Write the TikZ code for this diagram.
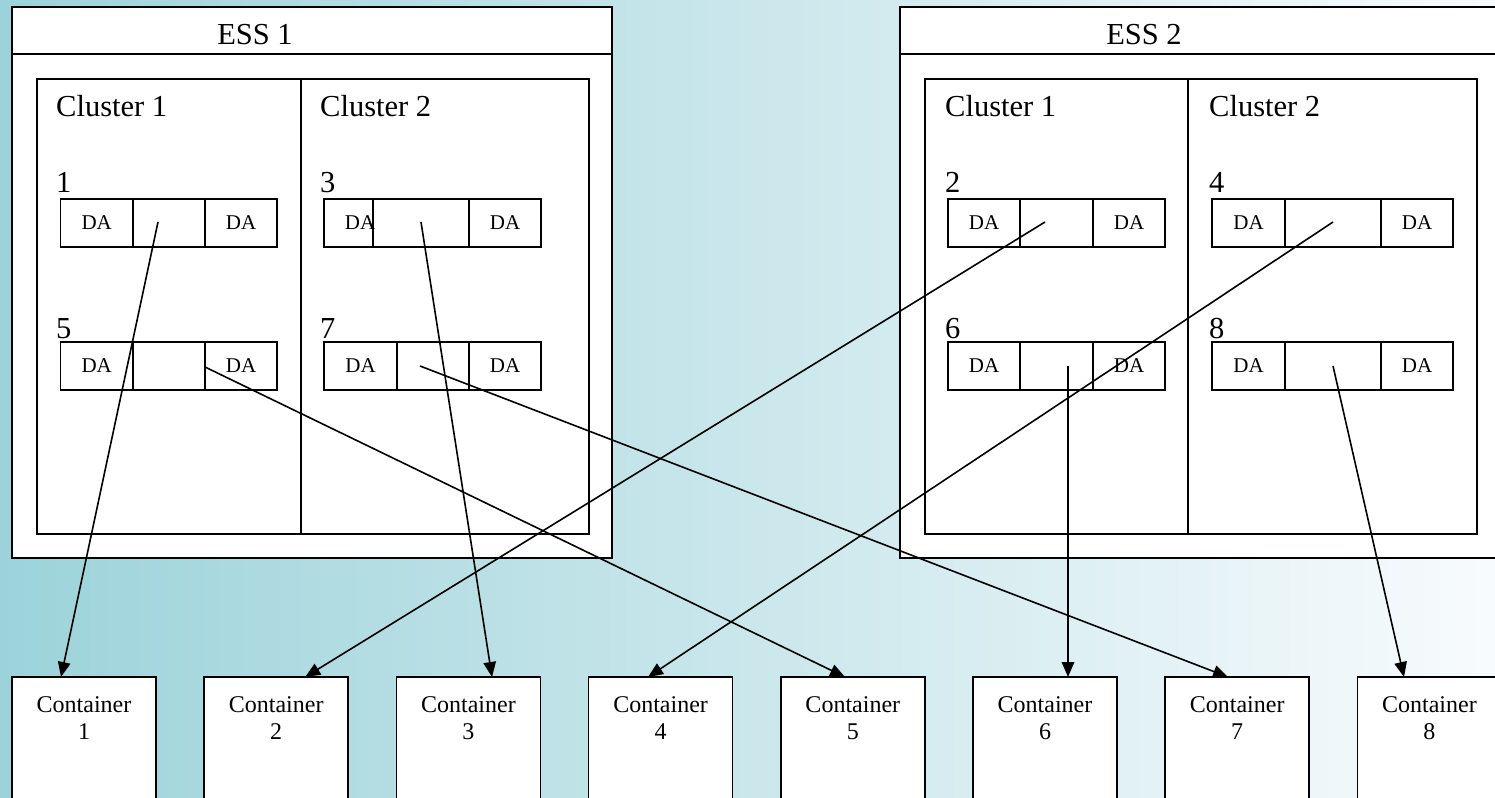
\documentclass[tikz,border=0pt]{standalone}
\usepackage{fontspec}
\setmainfont{Liberation Serif}
\usetikzlibrary{arrows.meta,calc}
\definecolor{bgL}{RGB}{156,211,218}
\definecolor{bgM}{RGB}{198,231,232}
\definecolor{bgR}{RGB}{248,251,253}
\begin{document}
\begin{tikzpicture}[x=1pt,y=-1pt,
  box/.style={draw=black,fill=white,line width=1.7pt,inner sep=0pt,outer sep=0pt,anchor=north west},
  cell/.style={box,minimum height=48pt,font=\fontsize{21}{24}\selectfont},
  big/.style={font=\fontsize{30.5}{36}\selectfont,inner sep=0pt,anchor=base west},
  ctext/.style={font=\fontsize{24}{28}\selectfont,inner sep=0pt,anchor=base},
  conn/.style={line width=1.6pt,-{Triangle[length=15pt,width=12.5pt]}}
]
\useasboundingbox (0,0) rectangle (1495,797);
\clip (0,0) rectangle (1495,797);
\shade[left color=bgL,middle color=bgM,right color=bgR] (0,0) rectangle (1495,797);

% ESS 1
\node[box,minimum width=600pt,minimum height=551pt] (ess1) at (12,7) {};
\draw[line width=1.7pt] ([yshift=-47pt]ess1.north west) -- ([yshift=-47pt]ess1.north east);
\node[big,anchor=base] (ess1t) at (255,45) {ESS 1};
\node[box,minimum width=264pt,minimum height=455pt] (c11) at (37,79) {};
\node[box,minimum width=288pt,minimum height=455pt] (c12) at (301,79) {};
\node[big] (c11t) at (56,117) {Cluster 1};
\node[big] (c12t) at (320,117) {Cluster 2};
\node[big] (n1) at (56,192) {1};
\node[big] (n3) at (320,192) {3};
\node[big] (n5) at (56,338) {5};
\node[big] (n7) at (320,338) {7};
% item 1
\node[cell,minimum width=72.5pt] (l1) at (60.5,199) {DA};
\node[cell,minimum width=72pt] (m1) at (133,199) {};
\node[cell,minimum width=72pt] (r1) at (205,199) {DA};
% item 5
\node[cell,minimum width=72.5pt] (l5) at (60.5,342) {DA};
\node[cell,minimum width=72pt] (m5) at (133,342) {};
\node[cell,minimum width=72pt] (r5) at (205,342) {DA};
% item 3
\node[cell,minimum width=49pt] (l3) at (324,199) {};
\node[cell,minimum width=96pt] (m3) at (373,199) {};
\node[cell,minimum width=72pt] (r3) at (469,199) {DA};
\node[font=\fontsize{21}{24}\selectfont,inner sep=0pt] (l3t) at (360,223) {DA};
% item 7
\node[cell,minimum width=73pt] (l7) at (324,342) {DA};
\node[cell,minimum width=72pt] (m7) at (397,342) {};
\node[cell,minimum width=72pt] (r7) at (469,342) {DA};

% ESS 2
\node[box,minimum width=600pt,minimum height=551pt] (ess2) at (900,7) {};
\draw[line width=1.7pt] ([yshift=-47pt]ess2.north west) -- ([yshift=-47pt]ess2.north east);
\node[big,anchor=base] (ess2t) at (1144,45) {ESS 2};
\node[box,minimum width=263pt,minimum height=455pt] (c21) at (925,79) {};
\node[box,minimum width=289pt,minimum height=455pt] (c22) at (1188,79) {};
\node[big] (c21t) at (945,117) {Cluster 1};
\node[big] (c22t) at (1209,117) {Cluster 2};
\node[big] (n2) at (945,192) {2};
\node[big] (n4) at (1209,192) {4};
\node[big] (n6) at (945,338) {6};
\node[big] (n8) at (1209,338) {8};
% item 2
\node[cell,minimum width=72pt] (l2) at (948,199) {DA};
\node[cell,minimum width=73pt] (m2) at (1020,199) {};
\node[cell,minimum width=72pt] (r2) at (1093,199) {DA};
% item 6
\node[cell,minimum width=72pt] (l6) at (948,342) {DA};
\node[cell,minimum width=73pt] (m6) at (1020,342) {};
\node[cell,minimum width=72pt] (r6) at (1093,342) {DA};
% item 4
\node[cell,minimum width=73pt] (l4) at (1212,199) {DA};
\node[cell,minimum width=96pt] (m4) at (1285,199) {};
\node[cell,minimum width=72pt] (r4) at (1381,199) {DA};
% item 8
\node[cell,minimum width=73pt] (l8) at (1212,342) {DA};
\node[cell,minimum width=96pt] (m8) at (1285,342) {};
\node[cell,minimum width=72pt] (r8) at (1381,342) {DA};

% containers
\foreach \i/\x in {1/12,2/204.2,3/396.4,4/588.6,5/780.8,6/973,7/1165.2,8/1357.4}{
  \node[box,minimum width=144pt,minimum height=140pt] (k\i) at (\x,677) {};
  \node[ctext] (k\i a) at ($(k\i.north)+(0,35)$) {Container};
  \node[ctext] (k\i b) at ($(k\i.north)+(0,62)$) {\i};
}

% connector start points
\coordinate (s1) at (158,222);
\coordinate (s3) at (421,222);
\coordinate (s5) at (205,367);
\coordinate (s7) at (420,366);
\coordinate (s2) at (1045,222);
\coordinate (s4) at (1333,222);
\coordinate (s6) at (1068,366);
\coordinate (s8) at (1333,366);

\draw[conn] (s1) -- ([xshift=-23pt]k1.north);
\draw[conn] (s2) -- ([xshift=29pt]k2.north);
\draw[conn] (s3) -- ([xshift=23.6pt]k3.north);
\draw[conn] (s4) -- ([xshift=-12.6pt]k4.north);
\draw[conn] (s5) -- ([xshift=-7.8pt]k5.north);
\draw[conn] (s6) -- ([xshift=23pt]k6.north);
\draw[conn] (s7) -- ([xshift=-9.2pt]k7.north);
\draw[conn] (s8) -- ([xshift=-25.4pt]k8.north);
\end{tikzpicture}
\end{document}
